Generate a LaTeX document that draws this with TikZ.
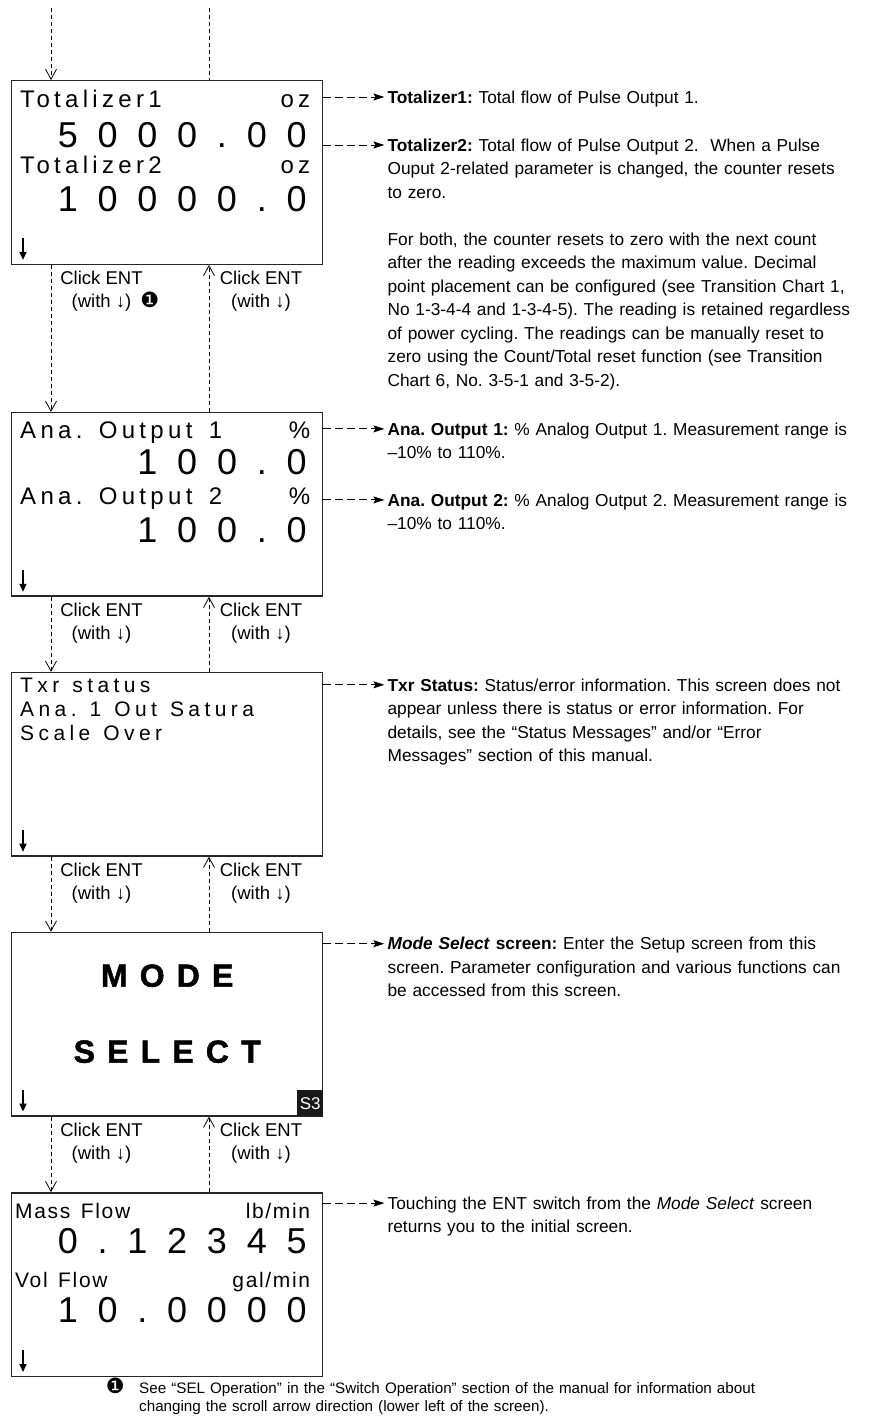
\documentclass[tikz,border=0pt]{standalone}
\usepackage{fontspec}
\setmainfont{Liberation Sans}
\newfontfamily\lcdfont[LetterSpace=18]{Liberation Sans}
\newfontfamily\lcdtxr[LetterSpace=21]{Liberation Sans}
\newfontfamily\lcdflow[LetterSpace=8]{Liberation Sans}
\newfontfamily\lcdnum[LetterSpace=55]{Liberation Sans}
\newfontfamily\lcdmode[LetterSpace=38, BoldFeatures={FakeBold=1.5}]{Liberation Sans}
\newfontfamily\symfont{DejaVu Sans}
\usetikzlibrary{arrows.meta, positioning, calc}
\newcommand{\fnmark}{{\symfont\fontsize{21}{21}\selectfont ❶}}
\newcommand{\lcdsp}[1]{\spaceskip=#1em\relax}
\frenchspacing
\tikzset{
  % LCD screen frame
  screen/.style={
    rectangle, draw=black!85, line width=1.4pt, fill=white,
    minimum width=311pt, minimum height=183.5pt, inner sep=0pt
  },
  lcd/.style   ={inner sep=0pt, font={\fontsize{24}{24}\lcdfont\lcdsp{0.68}}},
  lcdsm/.style ={inner sep=0pt, align=left, text width=290pt,
                 font={\fontsize{21}{24}\lcdtxr}},
  flowtxt/.style={inner sep=0pt, font={\fontsize{21}{21}\lcdflow\lcdsp{0.5}}},
  bignum/.style={inner sep=0pt, font=\fontsize{36}{36}\lcdnum},
  modetxt/.style={inner sep=0pt, font=\fontsize{32}{32}\lcdmode\bfseries},
  badge/.style={
    rectangle, fill=black!90, text=white, inner sep=0pt,
    minimum width=26pt, minimum height=26pt, font=\fontsize{17}{17}\selectfont
  },
  % captions and notes
  clk/.style  ={inner sep=0pt, align=center, font=\fontsize{18.5}{23}\selectfont},
  note/.style ={inner sep=0pt, align=left, text width=480pt, font=\fontsize{17.3}{23.5}\selectfont},
  fnote/.style={inner sep=0pt, align=left, text width=700pt, font=\fontsize{15.2}{18.5}\selectfont},
  % connectors
  flow/.style={line width=0.8pt, dash pattern=on 4pt off 3pt,
    -{Straight Barb[length=10pt, width=11pt, line width=0.8pt]}},
  flowline/.style={line width=0.8pt, dash pattern=on 4pt off 3pt},
  pointer/.style={line width=0.9pt, dash pattern=on 7.5pt off 4.5pt,
    -{Stealth[length=11pt, width=7pt, inset=2pt]}},
  scrollarr/.style={line width=1.6pt, -{Triangle[length=8pt, width=7pt]}}
}
\begin{document}
\begin{tikzpicture}[x=1pt, y=1pt]
  \useasboundingbox (0,0) rectangle (877,-1416);

  %% -- screens --------------------------------------------------------------
  \node[screen, anchor=north west] (scr1) at (11,-80) {};
  \node[screen, below=147pt of scr1] (scr2) {};
  \node[screen, below=75pt of scr2]  (scr3) {};
  \node[screen, below=75pt of scr3]  (scr4) {};
  \node[screen, below=75.5pt of scr4] (scr5) {};

  % Totalizer screen
  \node[lcd, anchor=base west] (tot1)  at ([shift={(9,-27)}]scr1.north west) {Totalizer1};
  \node[lcd, anchor=base east] (tot1u) at ([shift={(-13,-27)}]scr1.north east) {oz};
  \node[bignum, anchor=base east] (tot1v) at ([shift={(-16.5,-67)}]scr1.north east) {5000.00};
  \node[lcd, anchor=base west] (tot2)  at ([shift={(9,-93)}]scr1.north west) {Totalizer2};
  \node[lcd, anchor=base east] (tot2u) at ([shift={(-13,-93)}]scr1.north east) {oz};
  \node[bignum, anchor=base east] (tot2v) at ([shift={(-16.5,-131)}]scr1.north east) {10000.0};

  % Analog output screen
  \node[lcd, anchor=base west] (ana1)  at ([shift={(9,-27)}]scr2.north west) {Ana. Output 1};
  \node[lcd, anchor=base east] (ana1u) at ([shift={(-13,-27)}]scr2.north east) {\%};
  \node[bignum, anchor=base east] (ana1v) at ([shift={(-16.5,-63)}]scr2.north east) {100.0};
  \node[lcd, anchor=base west] (ana2)  at ([shift={(9,-93)}]scr2.north west) {Ana. Output 2};
  \node[lcd, anchor=base east] (ana2u) at ([shift={(-13,-93)}]scr2.north east) {\%};
  \node[bignum, anchor=base east] (ana2v) at ([shift={(-16.5,-131)}]scr2.north east) {100.0};

  % Status screen
  \node[lcdsm, anchor=base west] (txr) at ([shift={(9,-21)}]scr3.north west)
    {\lcdsp{0.62}Txr status\\Ana. 1 Out Satura\\Scale Over};

  % Mode select screen
  \node[modetxt, anchor=base] (mode) at ([yshift=-55pt]scr4.north) {MODE};
  \node[modetxt, anchor=base] (sel)  at ([yshift=-131pt]scr4.north) {SELECT};
  \node[badge, anchor=south east] (s3) at (scr4.south east) {S3};

  % Flow screen
  \node[flowtxt, anchor=base west] (mf)  at ([shift={(4,-26)}]scr5.north west) {Mass Flow};
  \node[flowtxt, anchor=base east] (mfu) at ([shift={(-13,-26)}]scr5.north east) {lb/min};
  \node[bignum, anchor=base east] (mfv)  at ([shift={(-16.5,-61)}]scr5.north east) {0.12345};
  \node[flowtxt, anchor=base west] (vf)  at ([shift={(4,-95)}]scr5.north west) {Vol Flow};
  \node[flowtxt, anchor=base east] (vfu) at ([shift={(-13,-95)}]scr5.north east) {gal/min};
  \node[bignum, anchor=base east] (vfv)  at ([shift={(-16.5,-130)}]scr5.north east) {10.0000};

  % scroll arrows
  \foreach \s in {scr1,scr2,scr3,scr4,scr5}
    \draw[scrollarr] ([shift={(12,27)}]\s.south west) -- ++(0,-22);

  %% -- transitions ----------------------------------------------------------
  \coordinate (indn) at (51,-8);
  \coordinate (inup) at (209,-8);
  \draw[flow]     (indn) -- (indn |- scr1.north);
  \draw[flowline] (inup) -- (inup |- scr1.north);

  \foreach \a/\b in {scr1/scr2, scr2/scr3, scr3/scr4, scr4/scr5} {
    \draw[flow] ([xshift=40pt]\a.south west)  -- ([xshift=40pt]\b.north west);
    \draw[flow] ([xshift=198pt]\b.north west) -- ([xshift=198pt]\a.south west);
  }

  \node[clk, anchor=north] (scr1-dn) at ([shift={(90.5,-6)}]scr1.south west)
    {Click ENT\\(with ↓)\rlap{\hspace{9pt}\fnmark}};
  \node[clk, anchor=north] (scr1-up) at ([shift={(250,-6)}]scr1.south west)
    {Click ENT\\(with ↓)};
  \foreach \a in {scr2,scr3,scr4} {
    \node[clk, anchor=north] (\a-dn) at ([shift={(90.5,-6)}]\a.south west) {Click ENT\\(with ↓)};
    \node[clk, anchor=north] (\a-up) at ([shift={(250,-6)}]\a.south west)  {Click ENT\\(with ↓)};
  }

  %% -- notes ----------------------------------------------------------------
  \coordinate (p1) at ([yshift=-17pt]scr1.north east);
  \node[note, anchor=base west] (n1) at ([shift={(64,-6.2)}]p1)
    {\textbf{Totalizer1:} Total flow of Pulse Output 1.};
  \draw[pointer] (p1) -- ([shift={(-3,6.2)}]n1.base west);

  \coordinate (p2) at ([yshift=-65pt]scr1.north east);
  \node[note, anchor=base west] (n2) at ([shift={(64,-6.2)}]p2)
    {\textbf{Totalizer2:} Total flow of Pulse Output 2.\ \ When a Pulse\\
     Ouput 2-related parameter is changed, the counter resets\\
     to zero.\\[23.5pt]
     For both, the counter resets to zero with the next count\\
     after the reading exceeds the maximum value. Decimal\\
     point placement can be configured (see Transition Chart 1,\\
     No 1-3-4-4 and 1-3-4-5). The reading is retained regardless\\
     of power cycling. The readings can be manually reset to\\
     zero using the Count/Total reset function (see Transition\\
     Chart 6, No. 3-5-1 and 3-5-2).};
  \draw[pointer] (p2) -- ([shift={(-3,6.2)}]n2.base west);

  \coordinate (p3) at ([yshift=-17pt]scr2.north east);
  \node[note, anchor=base west] (n3) at ([shift={(64,-6.2)}]p3)
    {\textbf{Ana. Output 1:} \% Analog Output 1. Measurement range is\\
     --10\% to 110\%.};
  \draw[pointer] (p3) -- ([shift={(-3,6.2)}]n3.base west);

  \coordinate (p4) at ([yshift=-88pt]scr2.north east);
  \node[note, anchor=base west] (n4) at ([shift={(64,-6.2)}]p4)
    {\textbf{Ana. Output 2:} \% Analog Output 2. Measurement range is\\
     --10\% to 110\%.};
  \draw[pointer] (p4) -- ([shift={(-3,6.2)}]n4.base west);

  \coordinate (p5) at ([yshift=-13pt]scr3.north east);
  \node[note, anchor=base west] (n5) at ([shift={(64,-6.2)}]p5)
    {\textbf{Txr Status:} Status/error information. This screen does not\\
     appear unless there is status or error information. For\\
     details, see the “Status Messages” and/or “Error\\
     Messages” section of this manual.};
  \draw[pointer] (p5) -- ([shift={(-3,6.2)}]n5.base west);

  \coordinate (p6) at ([yshift=-12pt]scr4.north east);
  \node[note, anchor=base west] (n6) at ([shift={(64,-6.2)}]p6)
    {\textbf{\textit{Mode Select} screen:} Enter the Setup screen from this\\
     screen. Parameter configuration and various functions can\\
     be accessed from this screen.};
  \draw[pointer] (p6) -- ([shift={(-3,6.2)}]n6.base west);

  \coordinate (p7) at ([yshift=-11pt]scr5.north east);
  \node[note, anchor=base west] (n7) at ([shift={(64,-6.2)}]p7)
    {Touching the ENT switch from the \textit{Mode Select} screen\\
     returns you to the initial screen.};
  \draw[pointer] (p7) -- ([shift={(-3,6.2)}]n7.base west);

  %% -- footnote -------------------------------------------------------------
  \node[fnote, anchor=base west] (fn) at ([shift={(128,-16)}]scr5.south west)
    {See “SEL Operation” in the “Switch Operation” section of the manual for information about\\
     changing the scroll arrow direction (lower left of the screen).};
  \node[inner sep=0pt, font=\fontsize{21}{21}\symfont, anchor=base east] (fnm)
    at ([xshift=-14pt]fn.base west) {❶};
\end{tikzpicture}
\end{document}
